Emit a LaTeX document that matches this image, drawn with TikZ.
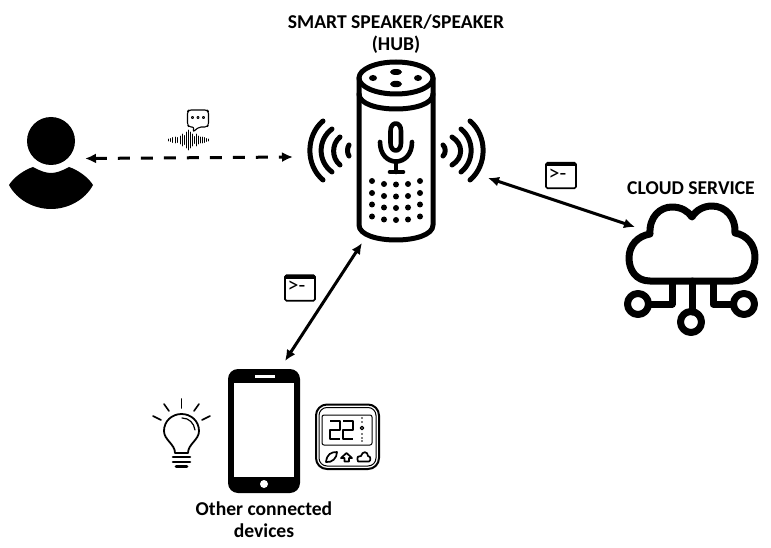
\documentclass[tikz,border=0pt]{standalone}
\usepackage{fontspec}
\setmainfont{Carlito}
\usetikzlibrary{arrows.meta}
\tikzset{
  ink/.style={draw=black,line cap=round,line join=round},
  thick5/.style={ink,line width=5pt},
  txtlabel/.style={font=\bfseries\fontsize{19.6}{22}\selectfont,align=center,inner sep=0pt,text=black},
  link/.style={line width=3pt,black,{Latex[length=11pt,width=10pt]}-{Latex[length=11pt,width=10pt]}},
  termtext/.style={font=\fontsize{22}{22}\selectfont,inner sep=0pt,text=black},
  termbox/.style={draw=black,line width=1.6pt,rounded corners=1.5pt},
}
\begin{document}
\begin{tikzpicture}[x=1pt,y=-1pt]
\useasboundingbox (0,0) rectangle (771,548);
\fill[white] (0,0) rectangle (771,548);
% labels
\node[txtlabel] (hublabel) at (396,34) {SMART SPEAKER/SPEAKER\\(HUB)};
\node[txtlabel] (cloudlabel) at (691,188) {CLOUD SERVICE};
\node[txtlabel] (devlabel) at (264,520) {Other connected\\devices};
% person
\fill (51,141) circle (24);
\fill (9,185) .. controls (14,177) and (24,170) .. (33,167) .. controls (40,171) and (46,173) .. (51,173)
  .. controls (56,173) and (62,171) .. (69,167) .. controls (78,170) and (88,177) .. (93,185)
  .. controls (85,200) and (68,209) .. (51,209) .. controls (34,209) and (17,200) .. (9,185) -- cycle;
% speaker body
\draw[thick5] (396,78) ellipse (37 and 16);
\draw[thick5] (359,78) -- (359,225) .. controls (359,245) and (433,245) .. (433,225) -- (433,78);
\draw[thick5] (359,94) .. controls (359,114) and (433,114) .. (433,94);
\foreach \cx/\cy/\rx/\ry in {373/78/4/3,396/72/6/3,418/78/4/3,396/84/6/3.2}
  \fill (\cx,\cy) ellipse (\rx pt and \ry pt);
% microphone
\draw[ink,line width=4.6pt] (390.5,131) .. controls (390.5,121) and (401,121) .. (401,131) -- (401,143) .. controls (401,153) and (390.5,153) .. (390.5,143) -- cycle;
\draw[ink,line width=4.6pt] (380,142) .. controls (380,168) and (412,168) .. (412,142);
\draw[ink,line width=4.6pt] (396,162) -- (396,172);
\draw[ink,line width=4.6pt] (390,172) -- (403,172);
% speaker grille
\foreach \gx/\off in {372/0,384/3,396/3.5,408/3,420/0}
  \foreach \gy in {181,193,204.5,216.5}
    \fill (\gx,\gy+\off) circle (3);
% sound waves
\foreach \ya/\yb/\xa/\xc in {121/180/323/305.5,129/172/332/317.5,137/165/340/331.5,145/156/349/347,
                             121/180/470/487.5,129/172/461/474.5,137/165/452/463.5,145/156/443/446}
  \draw[thick5] (\xa,\ya) .. controls (\xc,{\ya+0.25*(\yb-\ya)}) and (\xc,{\yb-0.25*(\yb-\ya)}) .. (\xa,\yb);
% cloud
\draw[ink,line width=7pt] (650,281) .. controls (636,281) and (629,270) .. (629,258)
  .. controls (629,245) and (638,236) .. (650,234)
  .. controls (649,217) and (660,207) .. (672,207)
  .. controls (681,207) and (688,211) .. (692,217)
  .. controls (696,210) and (704,206) .. (712,206)
  .. controls (726,206) and (736,218) .. (735,233)
  .. controls (747,235) and (755,245) .. (755,257)
  .. controls (755,271) and (746,281) .. (733,281) -- cycle;
\draw[ink,line width=7pt] (692,281) -- (692,312);
\draw[ink,line width=7pt,line cap=butt] (672,281) -- (672,304) -- (649,304);
\draw[ink,line width=7pt,line cap=butt] (713,281) -- (713,304) -- (734,304);
\draw[ink,line width=7pt] (638,304) circle (10.5);
\draw[ink,line width=7pt] (691,322) circle (10.5);
\draw[ink,line width=7pt] (744,304) circle (10.5);
% phone
\fill[rounded corners=10pt] (228,369) rectangle (300,493);
\fill[white] (234,383) rectangle (294,477);
\fill[white] (255,375) rectangle (275,377.5);
\fill[white] (264,484) circle (4);
% bulb
\draw[ink,line width=1.8pt] (175,453) .. controls (175,444) and (164,440) .. (164,431)
  .. controls (164,421) and (172,414) .. (181.5,414)
  .. controls (191,414) and (199,421) .. (199,431)
  .. controls (199,440) and (188,444) .. (188,453) -- cycle;
\draw[ink,line width=1.2pt] (182,418) .. controls (189,418) and (194,423) .. (195,430);
\draw[ink,line width=2.6pt] (173,457) -- (190,457);
\draw[ink,line width=2.6pt] (173,462) -- (190,462);
\draw[ink,line width=2.6pt] (176,466.5) -- (187,466.5);
\foreach \xa/\ya/\xb/\yb in {181.5/399/181.5/408,164/404/169/411,199/404/194/411,153/416/161/420,210/416/202/420}
  \draw[ink,line width=1.6pt] (\xa,\ya) -- (\xb,\yb);
% thermostat
\draw[ink,line width=2pt,rounded corners=11pt] (316,404.5) rectangle (379,469);
\draw[ink,line width=1pt,rounded corners=8pt] (319,407.5) rectangle (376,466);
\draw[ink,line width=1pt,rounded corners=2pt] (322,415) rectangle (372,445);
\draw[ink,line width=1.9pt,line cap=butt] (330,421) -- (340,421) -- (340,430) -- (330,430) -- (330,439) -- (340,439);
\draw[ink,line width=1.9pt,line cap=butt] (343,421) -- (353,421) -- (353,430) -- (343,430) -- (343,439) -- (353,439);
\foreach \ty in {418,422,434,438,441}
  \fill (362,\ty) circle (0.8);
\draw[ink,line width=1.2pt] (362,428) circle (1.8);
\draw[ink,line width=1.7pt] (326,462) .. controls (327,454) and (331,452) .. (337,452) .. controls (337,458) and (332,463) .. (326,462) -- cycle;
\draw[ink,line width=1.7pt] (341,458) -- (346.5,453) -- (352,458) -- (349,458) -- (349,461.5) -- (344.5,461.5) -- (344.5,458) -- cycle;
\draw[ink,line width=1.7pt] (358,461.5) .. controls (356,457) and (359,455) .. (361,456) .. controls (362,451) and (368,451) .. (368,456) .. controls (371,456) and (371,461) .. (369,461.5) -- cycle;
% speech bubble
\draw[ink,line width=1.1pt,rounded corners=2pt] (194,127) -- (189,127) -- (187.5,125) -- (187.5,111.5) -- (189,110) -- (207,110) -- (208.5,111.5) -- (208.5,125) -- (207,127) -- (199,127) -- (193,132) -- cycle;
\foreach \bx in {192.5,198,203.5}
  \draw[ink,line width=0.8pt] (\bx,117.5) circle (1.2);
% waveform
\foreach \wx/\wh in {168/1,170/1.5,172.5/2.5,175/3,177.5/2.5,180/4,182/6,184/4.5,186/8,188/10,190/8,192/6,194/3.5,196/6,198/4,200/3,202/3,204/2.5,206/1.5,208/1}
  \draw[ink,line width=0.8pt] (\wx,140-\wh) -- (\wx,140+\wh);
% terminal windows
\node[termbox,minimum width=30pt,minimum height=25.5pt,inner sep=0pt] (termA) at (561,175.5) {};
\fill (546,162.8) rectangle (576,166.2);
\node[termtext,anchor=west] (promptA) at (548.5,174.5) {>-};
\node[termbox,minimum width=30pt,minimum height=25.5pt,inner sep=0pt] (termB) at (300,288) {};
\fill (285,275.3) rectangle (315,278.7);
\node[termtext,anchor=west] (promptB) at (287.5,287) {>-};
% connectors
\coordinate (personport) at (85,158.5);
\coordinate (hubleft) at (293,157);
\coordinate (hubright) at (488,178);
\coordinate (cloudport) at (635,227);
\coordinate (hubbottom) at (362,243);
\coordinate (phoneport) at (285,361);
\draw[link,dash pattern=on 12pt off 11pt] (personport) -- (hubleft);
\draw[link] (hubright) -- (cloudport);
\draw[link] (hubbottom) -- (phoneport);
\end{tikzpicture}
\end{document}
